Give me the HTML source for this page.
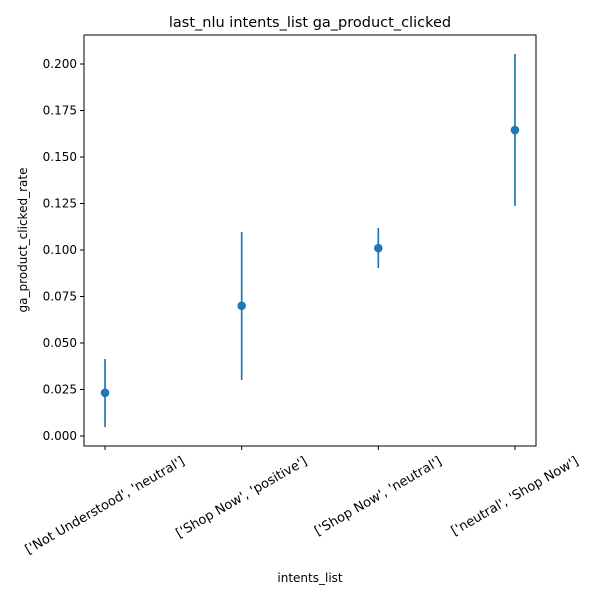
<!DOCTYPE html>
<html><head><meta charset="utf-8"><style>
body{margin:0;background:#fff;}
svg text{font-family:"DejaVu Sans","Liberation Sans",sans-serif;fill:#000;}
</style></head><body>
<svg id="chart" width="600" height="600">
<rect width="600" height="600" fill="#fff"/>
<text x="310" y="27" font-size="14.5" text-anchor="middle">last_nlu intents_list ga_product_clicked</text>
<g id="plot"></g>
<rect x="84" y="35" width="452" height="411" fill="none" stroke="#000" stroke-width="1"/>
<text x="310" y="582" font-size="12" text-anchor="middle">intents_list</text>
<text transform="translate(27,240) rotate(-90)" font-size="12" text-anchor="middle">ga_product_clicked_rate</text>
</svg>
<script>
const categories=["['Not Understood', 'neutral']","['Shop Now', 'positive']","['Shop Now', 'neutral']","['neutral', 'Shop Now']"];
const values=[0.0232,0.0700,0.1010,0.1645];
const lowers=[0.0048,0.0301,0.0903,0.1237];
const uppers=[0.0414,0.1097,0.1118,0.2054];
const yTicks=[0,0.025,0.05,0.075,0.1,0.125,0.15,0.175,0.2];
const yTickLabels=["0.000","0.025","0.050","0.075","0.100","0.125","0.150","0.175","0.200"];
const NS="http://www.w3.org/2000/svg";
const g=document.getElementById('plot');
const xs=i=>84+(i+0.154)/3.308*452;
const ys=v=>436-v/0.2*372;
function el(t,a){const e=document.createElementNS(NS,t);for(const k in a)e.setAttribute(k,a[k]);g.appendChild(e);return e;}
yTicks.forEach((v,i)=>{
 const t=el('line',{x1:80,x2:84,y1:ys(v),y2:ys(v),stroke:'#000'});
 
 
 const l=el('text',{x:77,y:ys(v)+4,'font-size':12,'text-anchor':'end'});
 l.textContent=yTickLabels[i];
 
 
});
categories.forEach((c,i)=>{
 const x=xs(i);
 const t=el('line',{x1:x,x2:x,y1:446,y2:450,stroke:'#000'});
 
 
 const l=el('text',{x:0,y:4,'font-size':13,'text-anchor':'middle',transform:`translate(${x},495) rotate(-30)`});
 l.textContent=c;
 
 
 const b=l.getBoundingClientRect();
 const dx=x-(b.left+b.right)/2, dy=454-b.top;
 l.setAttribute('transform',`translate(${x+dx},${495+dy}) rotate(-30)`);
 const e=el('line',{x1:x,x2:x,y1:ys(lowers[i]),y2:ys(uppers[i]),stroke:'#1f77b4','stroke-width':1.7});
 
 
 const p=el('circle',{cx:x,cy:ys(values[i]),r:4.3,fill:'#1f77b4'});
 
 
});
</script>
</body></html>
